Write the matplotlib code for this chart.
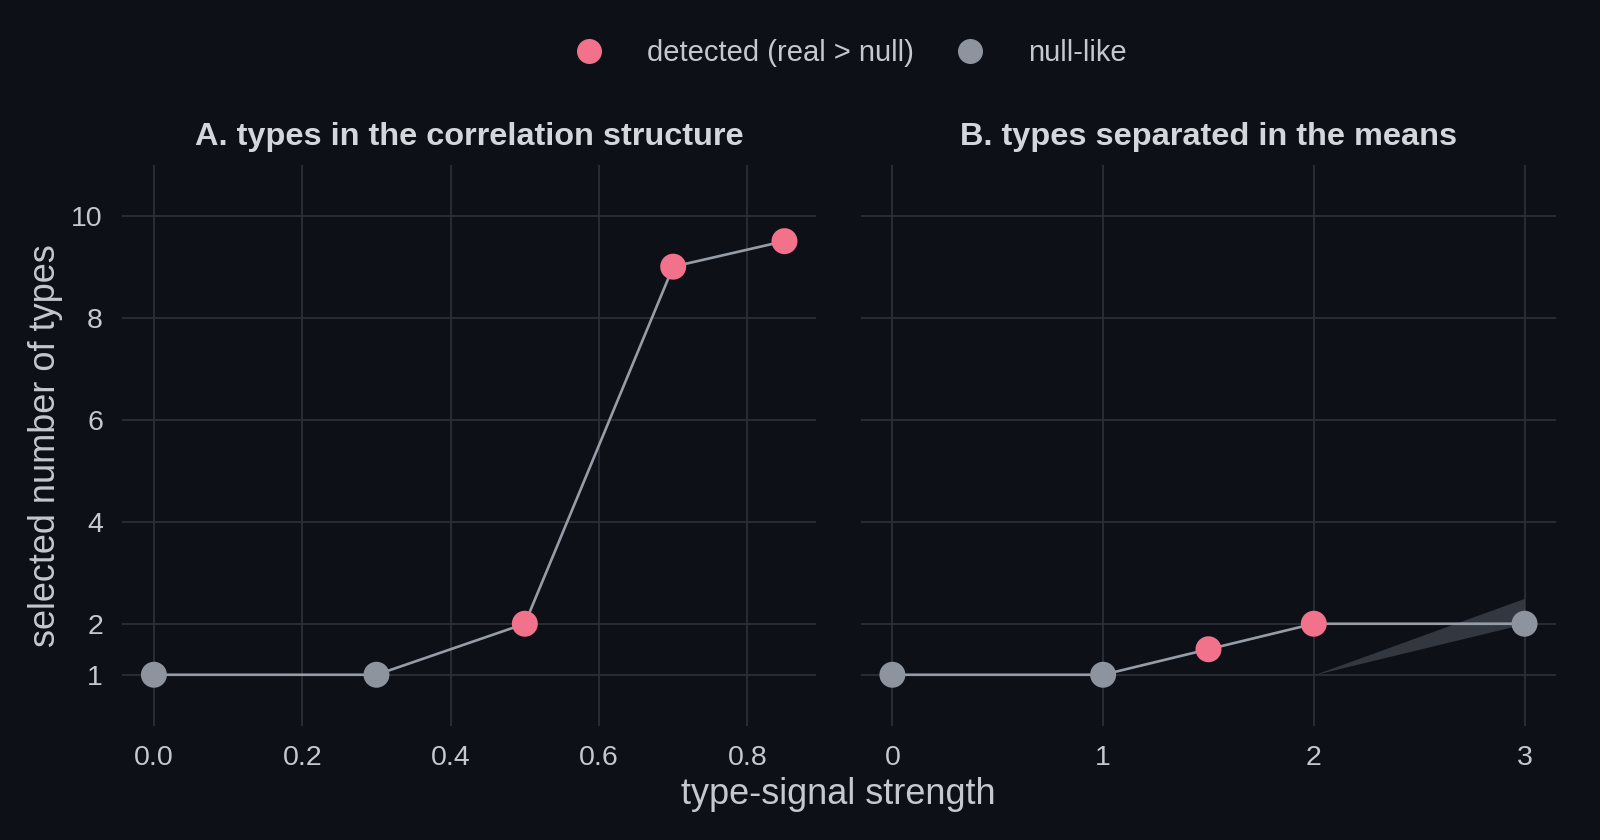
import matplotlib
matplotlib.use("Agg")
import matplotlib.pyplot as plt
from matplotlib.lines import Line2D

plt.rcParams['font.family'] = ['Liberation Sans', 'DejaVu Sans']

# Panel A data
a_x = [0.0, 0.3, 0.5, 0.7, 0.85]
a_y = [1, 1, 2, 9, 9.5]
a_detected = [False, False, True, True, True]

# Panel B data
b_x = [0, 1, 1.5, 2, 3]
b_y = [1, 1, 1.5, 2, 2]
b_detected = [False, False, True, True, False]

# Ribbon in panel B
rib_x = [2, 3]
rib_lo = [1, 2]
rib_hi = [1, 2.5]

a_xticks = [0.0, 0.2, 0.4, 0.6, 0.8]
a_xticklabels = ["0.0", "0.2", "0.4", "0.6", "0.8"]
b_xticks = [0, 1, 2, 3]
b_xticklabels = ["0", "1", "2", "3"]
yticks = [1, 2, 4, 6, 8, 10]

BG = "#0d1017"
GRID = "#2b2f37"
TEXT = "#c5c9cf"
TITLE = "#d3d7dc"
PINK = "#f2718b"
GREY = "#8e949e"
LINE = "#979da7"
RIB = "#3a4048"

fig = plt.figure(figsize=(16, 8.4), dpi=100, facecolor=BG)
axA = fig.add_axes([0.0765, 0.136, 0.4335, 0.668])
axB = fig.add_axes([0.538, 0.136, 0.4346, 0.668])

def style(ax):
    ax.set_facecolor(BG)
    for s in ax.spines.values():
        s.set_visible(False)
    ax.grid(True, color=GRID, linewidth=1.3)
    ax.set_axisbelow(True)
    ax.tick_params(axis='x', length=0, colors=TEXT, labelsize=20.5, pad=14)
    ax.tick_params(axis='y', length=0, colors=TEXT, labelsize=20.5, pad=14)
    ax.set_ylim(0, 11)
    ax.set_yticks(yticks)

def draw(ax, xs, ys, det):
    ax.plot(xs, ys, color=LINE, linewidth=1.9, zorder=2)
    cols = [PINK if d else GREY for d in det]
    ax.scatter(xs, ys, s=350, c=cols, edgecolors='none', zorder=3)

style(axA)
style(axB)
axB.fill_between(rib_x, rib_lo, rib_hi, color=RIB, alpha=0.85, linewidth=0, zorder=1.5)
draw(axA, a_x, a_y, a_detected)
draw(axB, b_x, b_y, b_detected)

axA.set_xlim(-0.0425, 0.8925)
axA.set_xticks(a_xticks)
axA.set_xticklabels(a_xticklabels)
axB.set_xlim(-0.15, 3.15)
axB.set_xticks(b_xticks)
axB.set_xticklabels(b_xticklabels)
axB.set_yticklabels([])

axA.set_title("A. types in the correlation structure", color=TITLE, fontsize=23.4,
              fontweight='bold', pad=14)
axB.set_title("B. types separated in the means", color=TITLE, fontsize=23.4,
              fontweight='bold', pad=14)
axA.set_ylabel("selected number of types", color=TEXT, fontsize=26, labelpad=6)
fig.text(0.524, 0.054, "type-signal strength", color=TEXT, fontsize=26,
         ha='center', va='center')

handles = [Line2D([], [], marker='o', linestyle='none', markersize=18,
                  markerfacecolor=PINK, markeredgecolor='none', label="detected (real > null)"),
           Line2D([], [], marker='o', linestyle='none', markersize=18,
                  markerfacecolor=GREY, markeredgecolor='none', label="null-like")]
leg = fig.legend(handles=handles, loc='center', bbox_to_anchor=(0.527, 0.937), ncol=2,
                 frameon=False, fontsize=21, handletextpad=1.0, columnspacing=0.9)
for t in leg.get_texts():
    t.set_color(TEXT)

fig.savefig("out.png", dpi=100, facecolor=BG)
